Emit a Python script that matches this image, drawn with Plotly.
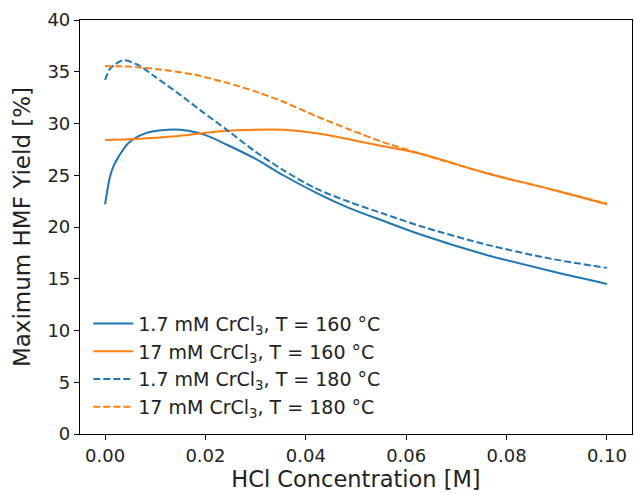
import plotly.graph_objects as go

# 1.7 mM CrCl3, T = 160 °C
x_b160 = [0, 0.0005, 0.001, 0.0017, 0.0027, 0.0046, 0.008, 0.0126, 0.0166, 0.0199, 0.0245, 0.0299, 0.0355, 0.0421, 0.0488, 0.0554, 0.0627, 0.076, 0.0892, 0.1]
y_b160 = [22.2, 23.7, 24.9, 25.9, 26.8, 28.1, 29.05, 29.4, 29.3, 28.9, 27.9, 26.6, 25.0, 23.3, 21.8, 20.6, 19.3, 17.3, 15.7, 14.5]

# 17 mM CrCl3, T = 160 °C
x_o160 = [0, 0.006, 0.0146, 0.0232, 0.0299, 0.0355, 0.0421, 0.0488, 0.0554, 0.0627, 0.076, 0.0892, 0.1]
y_o160 = [28.4, 28.5, 28.8, 29.25, 29.4, 29.4, 29.05, 28.45, 27.8, 27.1, 25.2, 23.6, 22.2]

# 1.7 mM CrCl3, T = 180 °C
x_b180 = [0, 0.001, 0.0036, 0.0066, 0.01, 0.0146, 0.0192, 0.0245, 0.0299, 0.0355, 0.0421, 0.0488, 0.0554, 0.0627, 0.076, 0.0892, 0.1]
y_b180 = [34.2, 35.3, 36.1, 35.65, 34.5, 32.9, 31.2, 29.3, 27.3, 25.5, 23.7, 22.4, 21.3, 20.1, 18.3, 16.9, 16.05]

# 17 mM CrCl3, T = 180 °C
x_o180 = [0, 0.0046, 0.0113, 0.0179, 0.0245, 0.0299, 0.0355, 0.0421, 0.0488, 0.0554, 0.0627, 0.076, 0.0892, 0.1]
y_o180 = [35.55, 35.5, 35.2, 34.7, 33.9, 33.1, 32.1, 30.7, 29.4, 28.2, 27.1, 25.2, 23.6, 22.25]

names = [
    "1.7 mM CrCl<sub>3</sub>, T = 160 °C",
    "17 mM CrCl<sub>3</sub>, T = 160 °C",
    "1.7 mM CrCl<sub>3</sub>, T = 180 °C",
    "17 mM CrCl<sub>3</sub>, T = 180 °C",
]
blue = "#1f77b4"
orange = "#ff7f0e"

fig = go.Figure()
series = [
    (x_b160, y_b160, names[0], blue, "solid"),
    (x_o160, y_o160, names[1], orange, "solid"),
    (x_b180, y_b180, names[2], blue, "7px,3px"),
    (x_o180, y_o180, names[3], orange, "7px,3px"),
]
for xs, ys, nm, col, dash in series:
    fig.add_trace(go.Scatter(x=xs, y=ys, name=nm, mode="lines",
                             line=dict(color=col, width=2, dash=dash, shape="spline", smoothing=0.8)))

axis_common = dict(showline=True, linecolor="black", linewidth=1.2, mirror=True,
                   ticks="outside", ticklen=5, tickcolor="black", showgrid=False,
                   zeroline=False, tickfont=dict(size=18, color="#222"))
fig.update_layout(
    width=634, height=493,
    margin=dict(l=80, r=2, t=20, b=59),
    paper_bgcolor="white", plot_bgcolor="white",
    font=dict(family="DejaVu Sans", color="#222"),
    xaxis=dict(range=[-0.005, 0.105], tickvals=[0, 0.02, 0.04, 0.06, 0.08, 0.1],
               ticktext=["0.00", "0.02", "0.04", "0.06", "0.08", "0.10"],
               title=dict(text="HCl Concentration [M]", font=dict(size=22.5), standoff=3), **axis_common),
    yaxis=dict(range=[0, 40], tickvals=[0, 5, 10, 15, 20, 25, 30, 35, 40],
               title=dict(text="Maximum HMF Yield [%]", font=dict(size=23), standoff=10), **axis_common),
    legend=dict(x=0.015, y=0.02, xanchor="left", yanchor="bottom", bgcolor="rgba(255,255,255,0)",
                font=dict(size=19), tracegroupgap=0, itemwidth=40),
    showlegend=True,
)
fig.write_html("out.html")
